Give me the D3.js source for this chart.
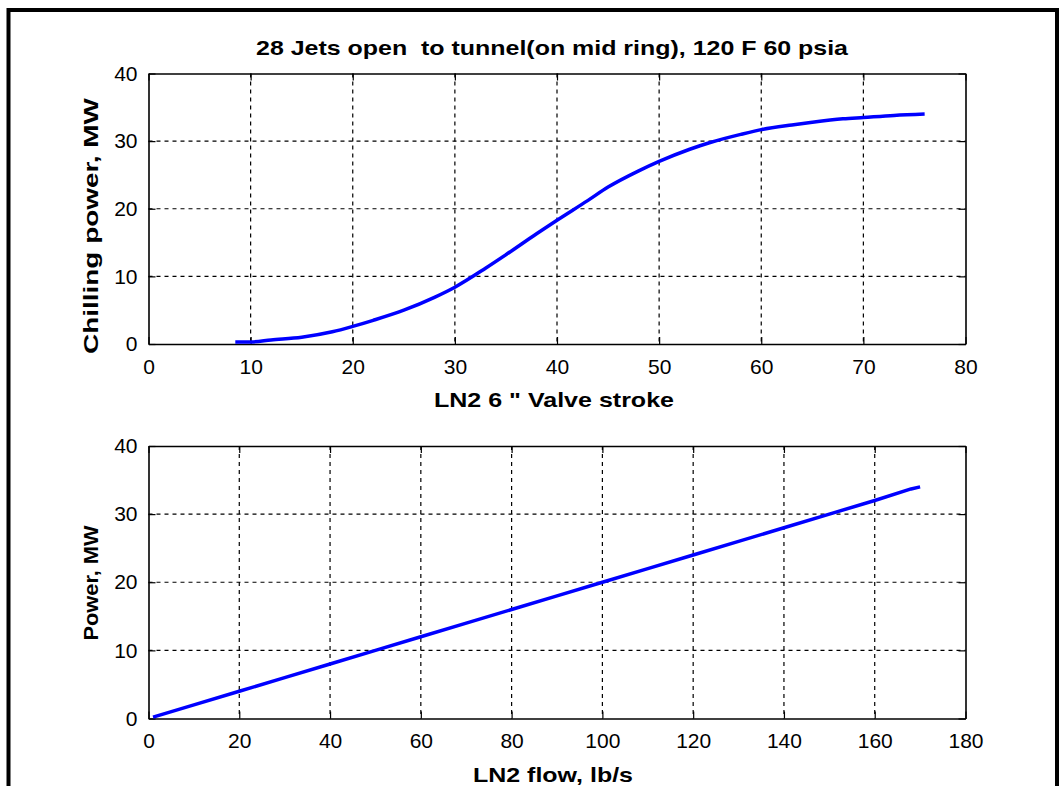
<!DOCTYPE html>
<html>
<head>
<meta charset="utf-8">
<script src="https://cdn.jsdelivr.net/npm/d3@7"></script>
<style>
  body { margin: 0; background: #fff; }
  text { font-family: "Liberation Sans", Arial, sans-serif; white-space: pre; }
</style>
</head>
<body>
<div id="chart"></div>
<script>
// values
var strokePct = [8.5, 10, 12, 15, 18, 20, 22, 25, 28, 30, 33, 35, 38, 40, 43, 45, 48, 50, 53, 55, 58, 60, 63, 65, 68, 70, 73, 76];
var chillMW   = [0.3, 0.3, 0.6, 1.0, 1.8, 2.6, 3.5, 5.0, 6.9, 8.4, 11.2, 13.2, 16.3, 18.3, 21.2, 23.2, 25.6, 27.0, 28.8, 29.8, 31.0, 31.7, 32.4, 32.8, 33.3, 33.5, 33.8, 34.0];
var flowLbs   = [1, 10, 20, 30, 40, 50, 60, 70, 80, 90, 100, 110, 120, 130, 140, 150, 160, 168, 170];
var powerMW   = [0.2, 2.0, 4.0, 6.0, 8.0, 10.0, 12.0, 14.0, 16.0, 18.0, 20.0, 22.0, 24.0, 26.0, 28.0, 30.0, 32.0, 33.7, 34.0];

var xTicks1 = [0, 10, 20, 30, 40, 50, 60, 70, 80];
var xTicks2 = [0, 20, 40, 60, 80, 100, 120, 140, 160, 180];
var yTicks  = [0, 10, 20, 30, 40];

var titleText = "28 Jets open  to tunnel(on mid ring), 120 F 60 psia";

var width = 1061, height = 786;
var svg = d3.select('#chart').append('svg')
    .attr('width', width)
    .attr('height', height);

// outer frame (bottom runs off the picture)
svg.append('path')
    .attr('d', 'M8.5,' + (height + 5) + 'V10H1057V' + (height + 5))
    .attr('fill', 'none')
    .attr('stroke', '#000')
    .attr('stroke-width', 4);

svg.append('text')
    .attr('x', 552).attr('y', 55)
    .attr('text-anchor', 'middle')
    .attr('font-weight', 'bold')
    .attr('font-size', 21)
    .attr('textLength', 592)
    .attr('lengthAdjust', 'spacingAndGlyphs')
    .text(titleText);

var drawPanel = function (opt) {
    var x = d3.scaleLinear().domain(opt.xDomain).range([148.5, 965.5]);
    var y = d3.scaleLinear().domain([0, 40]).range([opt.bottom, opt.top]);
    var g = svg.append('g');

    // dashed grid
    g.selectAll('.vgrid').data(opt.xTicks.slice(1, -1)).join('line')
        .attr('x1', d => x(d)).attr('x2', d => x(d))
        .attr('y1', opt.top).attr('y2', opt.bottom)
        .attr('stroke', '#000').attr('stroke-width', 1.2)
        .attr('stroke-dasharray', '4,4');
    g.selectAll('.hgrid').data(yTicks.slice(1, -1)).join('line')
        .attr('y1', d => y(d)).attr('y2', d => y(d))
        .attr('x1', 148.5).attr('x2', 965.5)
        .attr('stroke', '#000').attr('stroke-width', 1.2)
        .attr('stroke-dasharray', '4,4');

    // axes with inward ticks
    g.append('g').attr('transform', 'translate(0,' + opt.bottom + ')')
        .call(d3.axisBottom(x).tickValues(opt.xTicks).tickSize(-7).tickPadding(15).tickSizeOuter(0));
    g.append('g').attr('transform', 'translate(0,' + opt.top + ')')
        .call(d3.axisTop(x).tickValues(opt.xTicks).tickSize(-7).tickFormat('').tickSizeOuter(0));
    g.append('g').attr('transform', 'translate(148.5,0)')
        .call(d3.axisLeft(y).tickValues(yTicks).tickSize(-7).tickPadding(11).tickSizeOuter(0));
    g.append('g').attr('transform', 'translate(965.5,0)')
        .call(d3.axisRight(y).tickValues(yTicks).tickSize(-7).tickFormat('').tickSizeOuter(0));

    g.selectAll('.domain').attr('stroke', '#000').attr('stroke-width', 1.6);
    g.selectAll('.tick line').attr('stroke', '#000').attr('stroke-width', 1.2);
    g.selectAll('.tick text')
        .attr('font-family', '"Liberation Sans", Arial, sans-serif')
        .attr('font-size', 21)
        .attr('fill', '#000');

    var pts = opt.xs.map((v, i) => [v, opt.ys[i]]);
    g.append('path')
        .datum(pts)
        .attr('fill', 'none')
        .attr('stroke', '#0000ff')
        .attr('stroke-width', 3.5)
        .attr('stroke-linejoin', 'round')
        .attr('d', d3.line().curve(opt.curve).x(d => x(d[0])).y(d => y(d[1])));

    g.append('text')
        .attr('x', opt.xLabelX).attr('y', opt.bottom + 63)
        .attr('text-anchor', 'middle')
        .attr('font-weight', 'bold').attr('font-size', 21)
        .attr('textLength', opt.xLabelLen)
        .attr('lengthAdjust', 'spacingAndGlyphs')
        .text(opt.xLabel);
    g.append('text')
        .attr('transform', 'translate(98,' + opt.yLabelY + ') rotate(-90)')
        .attr('text-anchor', 'middle')
        .attr('font-weight', 'bold').attr('font-size', 21)
        .attr('textLength', opt.yLabelLen)
        .attr('lengthAdjust', 'spacingAndGlyphs')
        .text(opt.yLabel);
};

drawPanel({
    xDomain: [0, 80], xTicks: xTicks1, top: 73.5, bottom: 344,
    xs: strokePct, ys: chillMW, curve: d3.curveMonotoneX,
    xLabel: 'LN2 6 " Valve stroke', xLabelX: 554, xLabelLen: 240,
    yLabel: 'Chilling power, MW', yLabelY: 226, yLabelLen: 256
});
drawPanel({
    xDomain: [0, 180], xTicks: xTicks2, top: 446, bottom: 718.5,
    xs: flowLbs, ys: powerMW, curve: d3.curveLinear,
    xLabel: 'LN2 flow, lb/s', xLabelX: 553, xLabelLen: 160,
    yLabel: 'Power, MW', yLabelY: 583, yLabelLen: 115
});
</script>
</body>
</html>
